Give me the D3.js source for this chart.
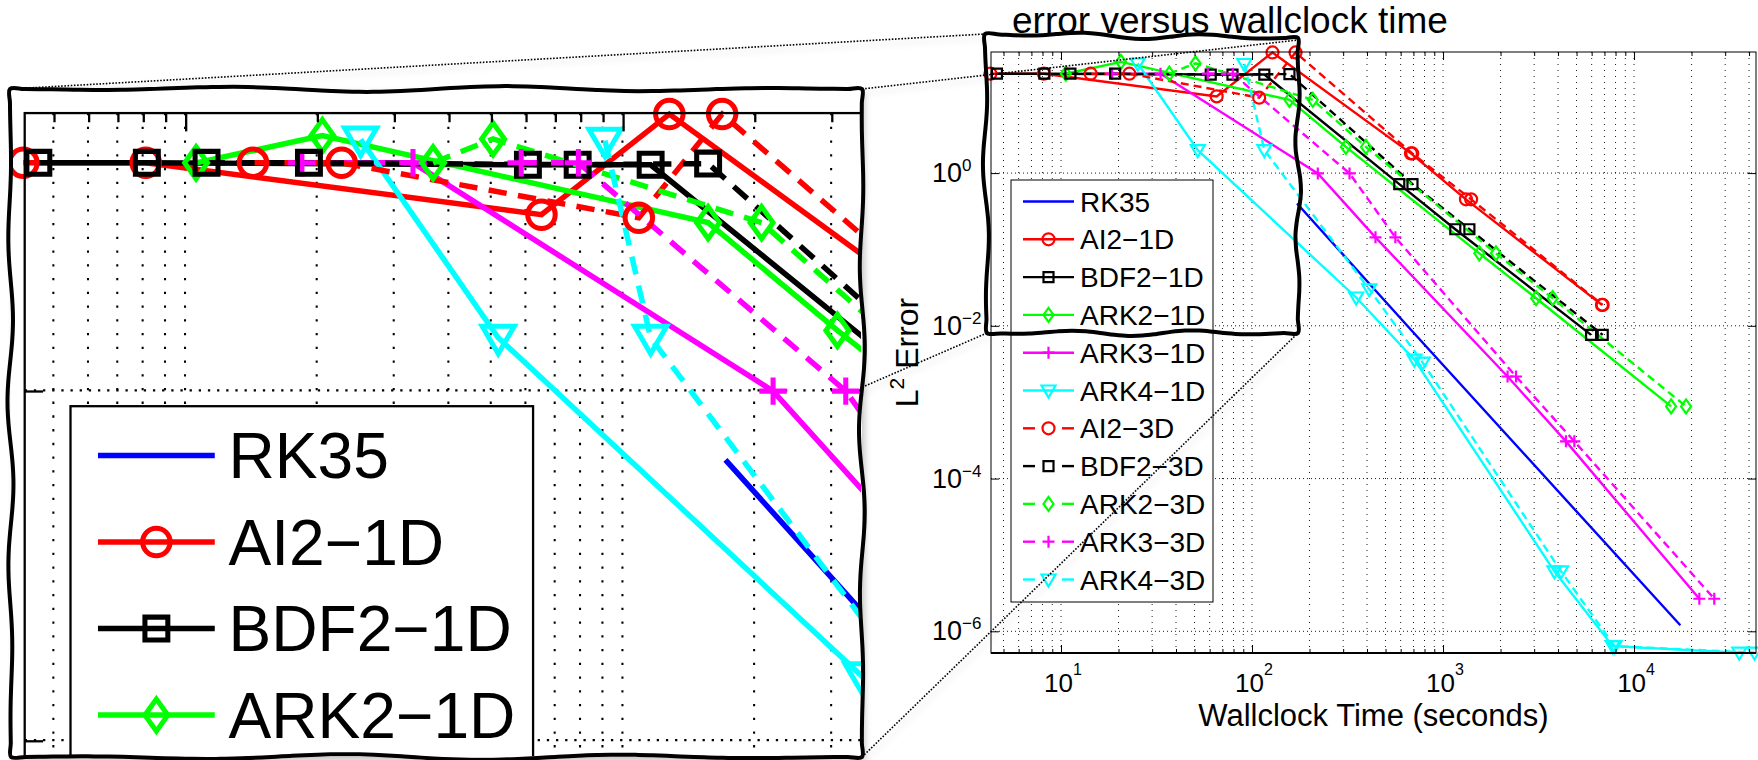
<!DOCTYPE html>
<html>
<head>
<meta charset="utf-8">
<script src="https://cdn.jsdelivr.net/npm/d3@7"></script>
<style>
  body { margin: 0; background: #fff; }
  svg { display: block; }
  text { font-family: "Liberation Sans", Arial, Helvetica, sans-serif; fill: #000; }
</style>
</head>
<body>
<svg id="chart" width="1758" height="760"></svg>
<script>
// wallclock time (seconds) and L2 error
const rk35Time = [172, 679, 17470];
const rk35Err  = [0.40, 0.00887, 1.2e-6];
const ai21dTime = [4.27, 8.13, 65.3, 128, 679, 1318, 6790];
const ai21dErr  = [20, 20, 10.1, 38, 1.81, 0.453, 0.0188];
const bdf21dTime = [4.62, 8.18, 60.8, 116, 590, 1159, 5957];
const bdf21dErr  = [20, 20, 19.5, 19.5, 0.718, 0.184, 0.0076];
const ark21dTime = [10.6, 20.6, 157, 310, 1549, 3070, 15630];
const ark21dErr  = [20, 28.6, 9.1, 2.2, 0.089, 0.023, 8.8e-4];
const ark31dTime = [18.5, 33.2, 221, 443, 2177, 4400, 21970];
const ark31dErr  = [20, 20, 0.99, 0.144, 0.00217, 3.07e-4, 2.67e-6];
const ark41dTime = [25.2, 52, 351, 708, 3830, 7730, 35550];
const ark41dErr  = [27.2, 2.0, 0.0235, 0.0036, 6.1e-6, 6.4e-7, 5.25e-7];
const ai23dTime = [14.3, 22.8, 109, 169, 690, 1403, 6850];
const ai23dErr  = [20, 20, 9.7, 38, 1.81, 0.453, 0.0188];
const bdf23dTime = [11.2, 19.2, 79, 157, 692, 1374, 6855];
const bdf23dErr  = [20, 20, 19.5, 19.8, 0.718, 0.184, 0.0076];
const ark23dTime = [36.9, 50.6, 208, 395, 1892, 3750, 18720];
const ark23dErr  = [20, 27.4, 9.1, 2.2, 0.089, 0.023, 8.8e-4];
const ark33dTime = [58.7, 79.3, 324, 563, 2410, 4870, 26300];
const ark33dErr  = [20, 20, 0.99, 0.144, 0.00217, 3.07e-4, 2.67e-6];
const ark43dTime = [91.2, 116, 411, 783, 4150, 7900, 42700];
const ark43dErr  = [26.8, 2.0, 0.0300, 0.0033, 6.1e-6, 6.4e-7, 5.25e-7];

const seriesNames = ["RK35", "AI2\u22121D", "BDF2\u22121D", "ARK2\u22121D", "ARK3\u22121D", "ARK4\u22121D",
  "AI2\u22123D", "BDF2\u22123D", "ARK2\u22123D", "ARK3\u22123D", "ARK4\u22123D"];
const seriesTimes = [rk35Time, ai21dTime, bdf21dTime, ark21dTime, ark31dTime, ark41dTime,
  ai23dTime, bdf23dTime, ark23dTime, ark33dTime, ark43dTime];
const seriesErrs = [rk35Err, ai21dErr, bdf21dErr, ark21dErr, ark31dErr, ark41dErr,
  ai23dErr, bdf23dErr, ark23dErr, ark33dErr, ark43dErr];

const xTickValues = [10, 100, 1000, 10000];
const yTickValues = [1, 1e-2, 1e-4, 1e-6];
const xDomain = [4.3, 43500];
const yDomain = [5.2e-7, 38.5];

const titleText = "error versus wallclock time";
const xLabelText = "Wallclock Time (seconds)";

// styles (MATLAB default colours)
const colors = ["#0000ff", "#ff0000", "#000000", "#00ff00", "#ff00ff", "#00ffff",
  "#ff0000", "#000000", "#00ff00", "#ff00ff", "#00ffff"];
const markers = [null, "circle", "square", "diamond", "plus", "triangle",
  "circle", "square", "diamond", "plus", "triangle"];
const dashed = [false, false, false, false, false, false, true, true, true, true, true];

const series = seriesNames.map((name, i) => ({
  name, color: colors[i], marker: markers[i], dashed: dashed[i],
  values: seriesTimes[i].map((t, j) => [t, seriesErrs[i][j]])
}));

function markerPath(type) {
  const p = d3.path();
  if (type === "circle") { p.moveTo(6, 0); p.arc(0, 0, 6, 0, 2 * Math.PI); }
  else if (type === "square") { p.rect(-5, -5, 10, 10); }
  else if (type === "diamond") { p.moveTo(0, -7); p.lineTo(5, 0); p.lineTo(0, 7); p.lineTo(-5, 0); p.closePath(); }
  else if (type === "plus") { p.moveTo(-6, 0); p.lineTo(6, 0); p.moveTo(0, -6); p.lineTo(0, 6); }
  else if (type === "triangle") { p.moveTo(-7, -5); p.lineTo(7, -5); p.lineTo(0, 7); p.closePath(); }
  return p.toString();
}

const svg = d3.select("#chart");
const defs = svg.append("defs");
defs.append("filter").attr("id", "shadow")
  .attr("filterUnits", "userSpaceOnUse")
  .attr("x", 0).attr("y", 0).attr("width", 1758).attr("height", 760)
  .append("feDropShadow")
  .attr("dx", 3).attr("dy", 4).attr("stdDeviation", 3)
  .attr("flood-color", "#000").attr("flood-opacity", 0.22);

// draws the whole plot in main-chart coordinates; the inset reuses it scaled up
function drawPlot(g, withTitle) {
  const x = d3.scaleLog().domain(xDomain).range([991, 1756]);
  const y = d3.scaleLog().domain(yDomain).range([653, 52]);
  const [L, R] = x.range();
  const [B, T] = y.range();

  const isMajor = v => Math.abs(Math.log10(v) - Math.round(Math.log10(v))) < 1e-9;
  const allX = x.ticks();
  const minorX = allX.filter(v => !isMajor(v));

  // dotted grid
  const grid = g.append("g").attr("stroke", "#000").attr("stroke-width", 0.9);
  grid.selectAll("line.gx").data(allX).join("line").attr("class", "gx")
    .attr("x1", d => x(d)).attr("x2", d => x(d)).attr("y1", T).attr("y2", B)
    .attr("stroke-dasharray", "1,5");
  grid.selectAll("line.gy").data(yTickValues).join("line").attr("class", "gy")
    .attr("x1", L).attr("x2", R).attr("y1", d => y(d)).attr("y2", d => y(d))
    .attr("stroke-dasharray", "1,3");

  // series
  const line = d3.line().x(d => x(d[0])).y(d => y(d[1]));
  const sg = g.append("g");
  series.forEach(s => {
    sg.append("path").datum(s.values)
      .attr("d", line)
      .attr("fill", "none")
      .attr("stroke", s.color)
      .attr("stroke-width", 2.4)
      .attr("stroke-dasharray", s.dashed ? "8,5" : null);
  });
  series.forEach(s => {
    if (!s.marker) return;
    sg.append("g").selectAll("path").data(s.values).join("path")
      .attr("transform", d => `translate(${x(d[0])},${y(d[1])})`)
      .attr("d", markerPath(s.marker))
      .attr("fill", "none")
      .attr("stroke", s.color)
      .attr("stroke-width", 2.2);
  });

  // axes box and inward ticks
  const ax = g.append("g").attr("color", "#000");
  const strip = a => a.select(".domain").remove();
  ax.append("g").attr("transform", `translate(0,${B})`)
    .call(d3.axisBottom(x).tickValues(minorX).tickSizeInner(-4).tickSizeOuter(0).tickFormat("")).call(strip);
  ax.append("g").attr("transform", `translate(0,${B})`)
    .call(d3.axisBottom(x).tickValues(xTickValues).tickSizeInner(-8).tickSizeOuter(0).tickFormat("")).call(strip);
  ax.append("g").attr("transform", `translate(0,${T})`)
    .call(d3.axisTop(x).tickValues(minorX).tickSizeInner(-4).tickSizeOuter(0).tickFormat("")).call(strip);
  ax.append("g").attr("transform", `translate(0,${T})`)
    .call(d3.axisTop(x).tickValues(xTickValues).tickSizeInner(-8).tickSizeOuter(0).tickFormat("")).call(strip);
  ax.append("g").attr("transform", `translate(${L},0)`)
    .call(d3.axisLeft(y).tickValues(yTickValues).tickSizeInner(-8).tickSizeOuter(0).tickFormat("")).call(strip);
  ax.append("g").attr("transform", `translate(${R},0)`)
    .call(d3.axisRight(y).tickValues(yTickValues).tickSizeInner(-8).tickSizeOuter(0).tickFormat("")).call(strip);
  ax.append("rect").attr("x", L).attr("y", T).attr("width", R - L).attr("height", B - T)
    .attr("fill", "none").attr("stroke", "#000").attr("stroke-width", 1);
  ax.append("line").attr("x1", L).attr("x2", R).attr("y1", B).attr("y2", B)
    .attr("stroke", "#000").attr("stroke-width", 2);

  // tick labels
  const expText = v => { const e = Math.round(Math.log10(v)); return e < 0 ? "\u2212" + (-e) : String(e); };
  xTickValues.forEach(v => {
    const t = g.append("text").attr("x", x(v) + 2).attr("y", B + 39).attr("text-anchor", "middle");
    t.append("tspan").attr("font-size", 26).text("10");
    t.append("tspan").attr("font-size", 16).attr("dy", -17).text(expText(v));
  });
  yTickValues.forEach(v => {
    const t = g.append("text").attr("x", L - 59).attr("y", y(v) + 9);
    t.append("tspan").attr("font-size", 27).text("10");
    t.append("tspan").attr("font-size", 17).attr("dy", -11).text(expText(v));
  });

  // labels and title
  g.append("text").attr("x", (L + R) / 2).attr("y", B + 73).attr("text-anchor", "middle")
    .attr("font-size", 31).text(xLabelText);
  const yl = g.append("text").attr("transform", `translate(918,${(T + B) / 2}) rotate(-90)`)
    .attr("text-anchor", "middle").attr("font-size", 32);
  yl.append("tspan").text("L");
  yl.append("tspan").attr("font-size", 21).attr("dy", -14).text("2");
  yl.append("tspan").attr("dy", 14).text(" Error");
  if (withTitle) {
    g.append("text").attr("x", 1012).attr("y", 33).attr("font-size", 37).text(titleText);
  }

  // legend
  const lg = g.append("g");
  lg.append("rect").attr("x", 1011).attr("y", 180).attr("width", 202).attr("height", 422)
    .attr("fill", "#fff").attr("stroke", "#000").attr("stroke-width", 1);
  series.forEach((s, i) => {
    const cy = 201.5 + 37.8 * i;
    const e = lg.append("g");
    if (s.dashed) {
      [[1023, 1035], [1062, 1074]].forEach(([a, b]) =>
        e.append("line").attr("x1", a).attr("x2", b).attr("y1", cy).attr("y2", cy)
          .attr("stroke", s.color).attr("stroke-width", 2.4));
    } else {
      e.append("line").attr("x1", 1023).attr("x2", 1074).attr("y1", cy).attr("y2", cy)
        .attr("stroke", s.color).attr("stroke-width", 2.4);
    }
    if (s.marker) {
      e.append("path").attr("transform", `translate(1048.5,${cy})`).attr("d", markerPath(s.marker))
        .attr("fill", "none").attr("stroke", s.color).attr("stroke-width", 2.2);
    }
    e.append("text").attr("x", 1080).attr("y", cy + 10).attr("font-size", 28).text(s.name);
  });
}

// hand-drawn looking box
function wavyPath(corners, amp, waves) {
  const pts = [];
  for (let e = 0; e < 4; e++) {
    const a = corners[e], b = corners[(e + 1) % 4];
    const dx = b[0] - a[0], dy = b[1] - a[1], len = Math.hypot(dx, dy);
    const nx = -dy / len, ny = dx / len;
    const n = Math.max(10, Math.round(len / 14));
    for (let j = 0; j < n; j++) {
      const t = j / n;
      const off = amp * Math.sin(Math.PI * t) * Math.sin(2 * Math.PI * waves[e] * t + e * 1.3);
      pts.push([a[0] + dx * t + nx * off, a[1] + dy * t + ny * off]);
    }
  }
  return d3.line().curve(d3.curveCatmullRomClosed)(pts);
}

// main chart
drawPlot(svg.append("g"), true);

// zoom frame on the main chart
const zoomBox = [[985, 34], [1298, 38], [1298, 333], [987, 333]];
const insetBox = [[10, 89], [862, 89], [862, 757], [11, 757]];

// connector lines
const conn = svg.append("g").attr("filter", "url(#shadow)");
[[insetBox[0], zoomBox[0]], [insetBox[1], [1298, 40]], [insetBox[3], zoomBox[3]], [insetBox[2], zoomBox[2]]]
  .forEach(([a, b]) => conn.append("line")
    .attr("x1", a[0]).attr("y1", a[1]).attr("x2", b[0]).attr("y2", b[1])
    .attr("stroke", "#000").attr("stroke-width", 1.6).attr("stroke-dasharray", "1.6,1.6"));

svg.append("path").attr("d", wavyPath(zoomBox, 3, [2.5, 3, 2.5, 2]))
  .attr("fill", "none").attr("stroke", "#000").attr("stroke-width", 4).attr("stroke-linejoin", "round");

// magnified inset (the title never reaches it)
const k = 2.29, tx = 185 - k * 1061, ty = -6;
const inset = svg.append("g");
inset.append("rect").attr("x", 11).attr("y", 89).attr("width", 851).attr("height", 668)
  .attr("fill", "#fff").attr("filter", "url(#shadow)");
defs.append("clipPath").attr("id", "insetClip").append("rect")
  .attr("x", 12).attr("y", 91).attr("width", 849).attr("height", 665);
drawPlot(inset.append("g").attr("clip-path", "url(#insetClip)")
  .append("g").attr("transform", `translate(${tx},${ty}) scale(${k})`), false);
inset.append("path").attr("d", wavyPath(insetBox, 3, [3, 4, 3, 4]))
  .attr("fill", "none").attr("stroke", "#000").attr("stroke-width", 4).attr("stroke-linejoin", "round");
</script>
</body>
</html>
